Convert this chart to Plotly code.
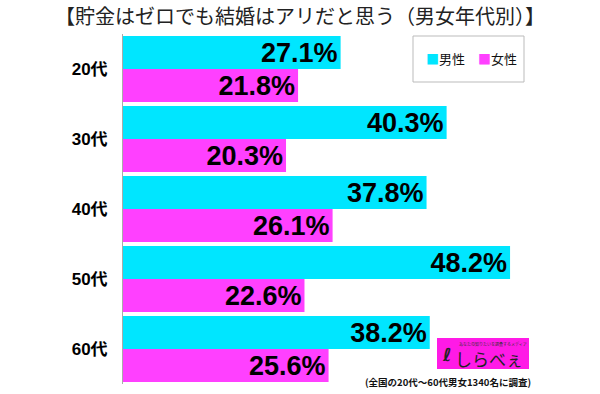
import plotly.graph_objects as go

categories = ["20代", "30代", "40代", "50代", "60代"]
male = [27.1, 40.3, 37.8, 48.2, 38.2]
female = [21.8, 20.3, 26.1, 22.6, 25.6]
series_names = ["男性", "女性"]
title_text = "【貯金はゼロでも結婚はアリだと思う（男女年代別）】"
note_text = "(全国の20代～60代男女1340名に調査)"

CYAN = "#00E6FF"
MAGENTA = "#FF40FF"
FONT = "Liberation Sans, Noto Sans CJK JP, sans-serif"

L, R, T, B = 123, 0, 34, 10
PW, PH = 600 - L - R, 394 - T - B


def px(x):
    return (x - L) / PW


def py(y):
    return (394 - B - y) / PH


fig = go.Figure()
for vals, color in [(male, CYAN), (female, MAGENTA)]:
    fig.add_trace(go.Bar(
        y=categories, x=vals, orientation="h",
        marker=dict(color=color, line=dict(width=0)),
        text=[f"{v:.1f}%" for v in vals],
        textposition="inside", insidetextanchor="end",
        constraintext="none",
        textfont=dict(family=FONT, size=27, color="black", weight="bold"),
        showlegend=False, hoverinfo="skip",
    ))

# legend entries: coloured small square inside the label
for name, color in zip(series_names, [CYAN, MAGENTA]):
    fig.add_trace(go.Scatter(
        x=[None], y=[None], mode="markers",
        name=f'<span style="color:{color}">■</span>{name}',
        marker=dict(symbol="square", size=1, color="rgba(0,0,0,0)"),
        showlegend=True,
    ))
# spacer entry so the last label is not clipped
fig.add_trace(go.Scatter(
    x=[None], y=[None], mode="markers", name=" ",
    marker=dict(symbol="square", size=1, color="rgba(0,0,0,0)"),
    showlegend=True, hoverinfo="skip",
))

fig.update_layout(
    width=600, height=394,
    margin=dict(l=L, r=R, t=T, b=B, autoexpand=False),
    paper_bgcolor="white", plot_bgcolor="white",
    barmode="group", bargap=0.057, bargroupgap=0,
    title=dict(text=title_text, x=0.5, xanchor="center", y=0.958, yanchor="middle",
               automargin=False,
               font=dict(family="Noto Sans CJK JP, sans-serif", size=20, color="#222")),
    xaxis=dict(range=[0, 59.4], visible=False, fixedrange=True, automargin=False),
    yaxis=dict(autorange="reversed", showline=True, linecolor="#aaaaaa", linewidth=1,
               showgrid=False, ticks="", ticklabelstandoff=11, automargin=False,
               fixedrange=True,
               tickfont=dict(family=FONT, size=17, color="black", weight="bold")),
    legend=dict(orientation="h", x=px(386), y=py(59), xanchor="left", yanchor="middle",
                bgcolor="rgba(0,0,0,0)", borderwidth=0,
                font=dict(family="Noto Sans CJK JP, sans-serif", size=13, color="#111"),
                itemwidth=30, entrywidth=7, tracegroupgap=0),
    showlegend=True,
)

# legend frame
fig.add_shape(type="rect", xref="paper", yref="paper",
              x0=px(413), x1=px(524), y0=py(82), y1=py(36),
              line=dict(color="#bbbbbb", width=1), fillcolor="rgba(0,0,0,0)")

# logo box
fig.add_shape(type="rect", xref="paper", yref="paper",
              x0=px(437), x1=px(529), y0=py(369), y1=py(338),
              line=dict(width=0), fillcolor="#FF1AE6")
fig.add_annotation(xref="paper", yref="paper", x=px(493), y=py(344),
                   xanchor="center", yanchor="middle",
                   text="あなたの知りたいを調査するメディア", showarrow=False,
                   font=dict(family="Noto Sans CJK JP", size=4, color="#333"))
fig.add_annotation(xref="paper", yref="paper", x=px(489), y=py(358),
                   xanchor="center", yanchor="middle",
                   text="しらべぇ", showarrow=False,
                   font=dict(family="Noto Sans CJK JP", size=17, color="#222"))
fig.add_annotation(xref="paper", yref="paper", x=px(447), y=py(354),
                   xanchor="center", yanchor="middle",
                   text="<b>ℓ</b>", showarrow=False,
                   font=dict(family="DejaVu Sans", size=18, color="#222"))

# footnote
fig.add_annotation(xref="paper", yref="paper", x=px(448), y=py(382),
                   xanchor="center", yanchor="middle",
                   text=note_text, showarrow=False,
                   font=dict(family="Noto Sans CJK JP, sans-serif", size=9.5, color="#111",
                             weight="bold"))

fig.write_html("out.html", config={"displayModeBar": False},
               post_script="document.body.style.margin='0';")
